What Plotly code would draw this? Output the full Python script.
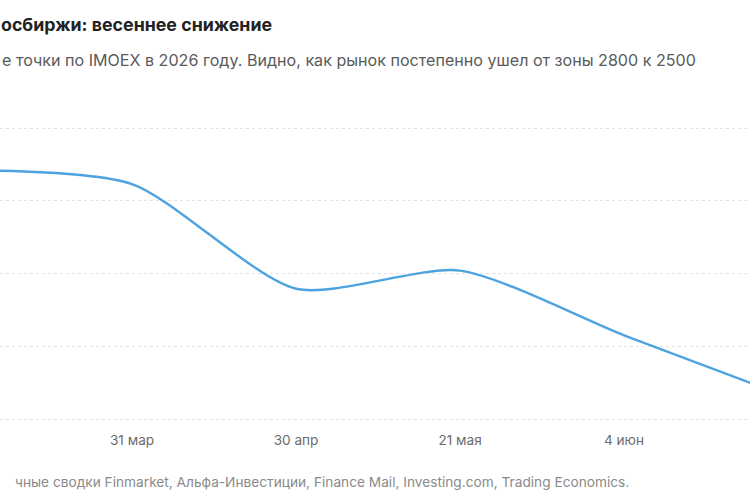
import plotly.graph_objects as go

categories = ["2 мар", "31 мар", "30 апр", "21 мая", "4 июн", "18 июн"]
imoex = [2842, 2823, 2679, 2704, 2615, 2530]
y_ticks = [2500, 2600, 2700, 2800, 2900]

# visible parts of the (cropped) texts
title_text = "осбиржи: весеннее снижение"
subtitle_text = "е точки по IMOEX в 2026 году. Видно, как рынок постепенно ушел от зоны 2800 к 2500"
source_text = "чные сводки Finmarket, Альфа-Инвестиции, Finance Mail, Investing.com, Trading Economics."

W, H = 750, 500
FONT = "Inter, Roboto, sans-serif"
T, B = 121, 74
PX_PER_UNIT = 291 / 400
extra = ((H - T - B) / PX_PER_UNIT - 400) / 2

fig = go.Figure()
fig.add_trace(go.Scatter(
    x=list(range(len(categories))), y=imoex, mode="lines",
    line=dict(color="#4da3df", width=2.4, shape="spline", smoothing=0.7),
    hoverinfo="skip", showlegend=False,
))

fig.update_layout(
    width=W, height=H,
    margin=dict(l=0, r=0, t=T, b=B),
    paper_bgcolor="white", plot_bgcolor="white",
    font=dict(family=FONT, color="#666"),
    xaxis=dict(
        range=[0.195, 4.768], tickmode="array",
        tickvals=list(range(len(categories))), ticktext=categories,
        showgrid=False, zeroline=False, showline=False,
        ticks="outside", ticklen=2, tickcolor="rgba(0,0,0,0)",
        tickfont=dict(size=13.6, color="#6b6b6b"),
    ),
    yaxis=dict(
        range=[y_ticks[0] - extra, y_ticks[-1] + extra], tickmode="array", tickvals=y_ticks,
        showticklabels=False, showgrid=True, gridcolor="#e3e3e3",
        griddash="3px,3px", gridwidth=1, zeroline=False, showline=False,
    ),
    annotations=[
        dict(text="<b>" + title_text + "</b>", xref="paper", yref="paper",
             x=274 / W, y=1, yshift=T - 24, xanchor="right", yanchor="middle",
             showarrow=False, font=dict(size=17.8, color="#222", family=FONT)),
        dict(text=subtitle_text, xref="paper", yref="paper",
             x=698 / W, y=1, yshift=T - 60, xanchor="right", yanchor="middle",
             showarrow=False, font=dict(size=16.1, color="#5a5a5a", family=FONT)),
        dict(text=source_text, xref="paper", yref="paper",
             x=631 / W, y=0, yshift=-(482 - (H - B)), xanchor="right", yanchor="middle",
             showarrow=False, font=dict(size=13.7, color="#8a8a8a", family=FONT)),
    ],
)

fig.write_html("out.html")
